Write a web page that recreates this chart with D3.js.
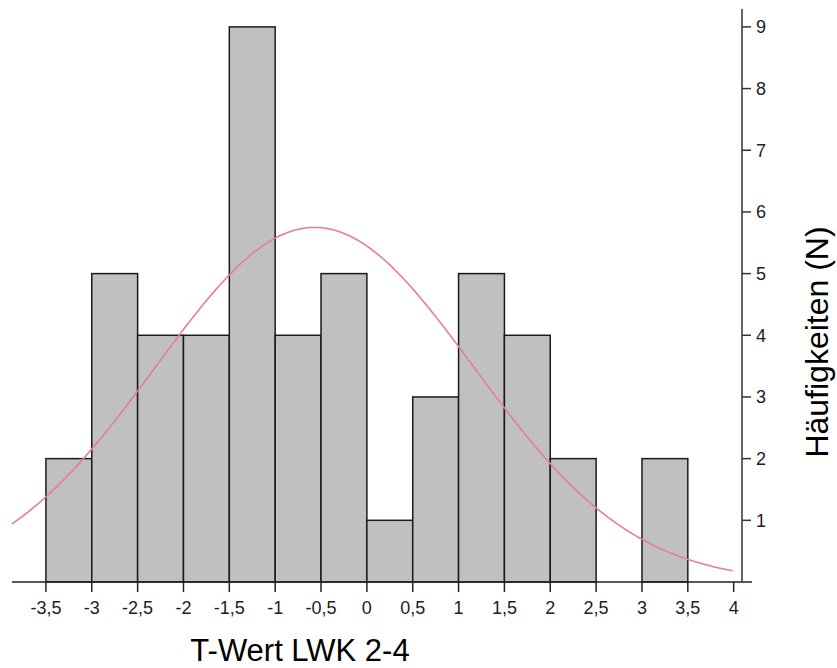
<!DOCTYPE html>
<html>
<head>
<meta charset="utf-8">
<script src="https://cdn.jsdelivr.net/npm/d3@7"></script>
<style>
  body { margin: 0; background: #fff; }
  svg { display: block; }
</style>
</head>
<body>
<script>
// Klassengrenzen (Breite 0,5) und Häufigkeiten
const binStarts = [-3.5, -3, -2.5, -2, -1.5, -1, -0.5, 0, 0.5, 1, 1.5, 2, 2.5, 3];
const counts    = [2, 5, 4, 4, 9, 4, 5, 1, 3, 5, 4, 2, 0, 2];
const binWidth = 0.5;

// Normalverteilungskurve
const curveMean = -0.57;
const curveSd = 1.735;
const curveN = 50;
const curveRange = [-3.87, 4];

const xTicks = [-3.5, -3, -2.5, -2, -1.5, -1, -0.5, 0, 0.5, 1, 1.5, 2, 2.5, 3, 3.5, 4];
const yTicks = [1, 2, 3, 4, 5, 6, 7, 8, 9];

const width = 837;
const height = 668;

const svg = d3.select("body")
  .append("svg")
  .attr("width", width)
  .attr("height", height)
  .style("font-family", "Arial, 'Liberation Sans', sans-serif");

const x = d3.scaleLinear().domain([-3.87, 4.2]).range([12, 752]);
const y = d3.scaleLinear().domain([0, 9.29]).range([582, 9]);

const fmt = d => String(d).replace(".", ",");

// Balken
svg.selectAll(".bar")
  .data(binStarts.map((s, i) => ({ s, c: counts[i] })).filter(d => d.c > 0))
  .enter()
  .append("rect")
  .attr("x", d => x(d.s))
  .attr("y", d => y(d.c))
  .attr("width", d => x(d.s + binWidth) - x(d.s))
  .attr("height", d => y(0) - y(d.c))
  .style("fill", "#c0c0c0")
  .style("stroke", "#1a1a1a")
  .style("stroke-width", 1.5);

// Kurve
const pdf = v => curveN * binWidth / (curveSd * Math.sqrt(2 * Math.PI)) *
  Math.exp(-0.5 * ((v - curveMean) / curveSd) ** 2);
const pts = d3.range(curveRange[0], curveRange[1] + 0.001, 0.02).map(v => [v, pdf(v)]);

svg.append("path")
  .datum(pts)
  .attr("d", d3.line().x(d => x(d[0])).y(d => y(d[1])))
  .style("fill", "none")
  .style("stroke", "#e5808c")
  .style("stroke-width", 1.6);

// X-Achse
const xAxis = svg.append("g").attr("transform", `translate(0,${y(0)})`);
xAxis.append("line")
  .attr("x1", 12).attr("x2", 752)
  .style("stroke", "#222").style("stroke-width", 1.5);
const xt = xAxis.selectAll(".xt").data(xTicks).enter().append("g")
  .attr("transform", d => `translate(${x(d)},0)`);
xt.append("line").attr("y1", 0).attr("y2", 10)
  .style("stroke", "#222").style("stroke-width", 1.5);
xt.append("text")
  .attr("y", 32)
  .attr("text-anchor", "middle")
  .style("font-size", "18px")
  .style("fill", "#1c1c2a")
  .text(fmt);

// Y-Achse
const yAxis = svg.append("g").attr("transform", `translate(742,0)`);
yAxis.append("line")
  .attr("y1", 9).attr("y2", y(0))
  .style("stroke", "#333").style("stroke-width", 1.5);
const yt = yAxis.selectAll(".yt").data(yTicks).enter().append("g")
  .attr("transform", d => `translate(0,${y(d)})`);
yt.append("line").attr("x1", 0).attr("x2", 9)
  .style("stroke", "#333").style("stroke-width", 1.5);
yt.append("text")
  .attr("x", 14)
  .attr("dy", "0.36em")
  .style("font-size", "18px")
  .style("fill", "#1c1c2a")
  .text(d => d);

// Achsentitel
svg.append("text")
  .attr("x", 300)
  .attr("y", 661)
  .attr("text-anchor", "middle")
  .style("font-size", "31px")
  .text("T-Wert LWK 2-4");

svg.append("text")
  .attr("transform", "translate(828,342) rotate(-90)")
  .attr("text-anchor", "middle")
  .style("font-size", "32px")
  .text("Häufigkeiten (N)");
</script>
</body>
</html>
